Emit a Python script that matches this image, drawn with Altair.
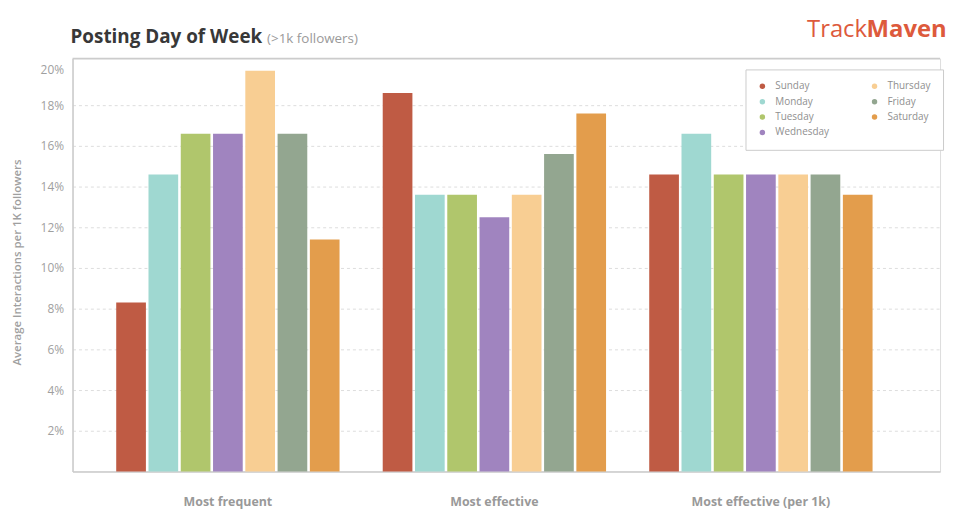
import altair as alt
import pandas as pd

categories = ["Most frequent", "Most effective", "Most effective (per 1k)"]
days = ["Sunday", "Monday", "Tuesday", "Wednesday", "Thursday", "Friday", "Saturday"]
most_frequent = [8.3, 14.6, 16.6, 16.6, 19.7, 16.6, 11.4]
most_effective = [18.6, 13.6, 13.6, 12.5, 13.6, 15.6, 17.6]
most_effective_per_1k = [14.6, 16.6, 14.6, 14.6, 14.6, 14.6, 13.6]
day_colors = ["#BF5B44", "#9FD8D1", "#B0C66C", "#A084BF", "#F8CE93", "#93A690", "#E39D4C"]
y_ticks = [2, 4, 6, 8, 10, 12, 14, 16, 18, 20]

title_text = "Posting Day of Week"
subtitle_text = "(>1k followers)"
y_title = "Average Interactions per 1K followers"

series = [most_frequent, most_effective, most_effective_per_1k]
rows = []
for cat, vals in zip(categories, series):
    for d, v in zip(days, vals):
        rows.append({"category": cat, "day": d, "value": v})
df = pd.DataFrame(rows)

W, H = 874, 416
FONT = "Open Sans"

bars = alt.Chart(df).mark_bar().encode(
    x=alt.X(
        "category:N",
        sort=categories,
        scale=alt.Scale(paddingInner=0.162, paddingOuter=0.2086, align=0.393),
        axis=alt.Axis(
            title=None, labelAngle=0, labelFont=FONT, labelFontWeight="bold",
            labelFontSize=12.5, labelColor="#999999", labelPadding=24, ticks=False,
            domainColor="#cccccc", domainWidth=1.5,
        ),
    ),
    xOffset=alt.XOffset("day:N", sort=days, scale=alt.Scale(paddingInner=0.08, paddingOuter=0)),
    y=alt.Y(
        "value:Q",
        scale=alt.Scale(domain=[0, 20.3], nice=False, zero=True),
        axis=alt.Axis(
            values=y_ticks, labelExpr="datum.value + '%'", title=y_title,
            grid=True, gridDash=[3, 3], gridColor="#dddddd",
            gridOpacity={"condition": {"test": "datum.value >= 20", "value": 0}, "value": 1},
            ticks=False, domainColor="#cccccc", domainWidth=1.5,
            labelFont=FONT, labelColor="#9f9f9f", labelFontSize=12, labelPadding=9,
            labelFlush=10,
            titleFont=FONT, titleFontSize=11.5, titleFontWeight=600, titleColor="#9f9f9f",
            titleX=-55, titleY=205, titleBaseline="middle", titleAlign="center", titleAngle=270,
        ),
    ),
    color=alt.Color(
        "day:N",
        scale=alt.Scale(domain=days, range=day_colors),
        legend=alt.Legend(
            title=None, orient="none", legendX=678, legendY=11, columns=2,
            symbolType="circle", symbolSize=30, symbolStrokeWidth=0,
            labelFont=FONT, labelFontSize=10, labelColor="#8f8f8f",
            strokeColor="#cccccc", fillColor="white", padding=12,
            rowPadding=5.5, columnPadding=40, labelOffset=8,
        ),
    ),
)

top_border = alt.Chart(pd.DataFrame({"a": [0]})).mark_rule(color="#cccccc", strokeWidth=1.5).encode(
    x=alt.value(0), x2=alt.value(W), y=alt.value(0)
)

title = alt.Chart(pd.DataFrame({"t": [title_text]})).mark_text(
    align="left", baseline="middle", font=FONT, fontSize=19, fontWeight="bold", color="#383838"
).encode(x=alt.value(-2), y=alt.value(-22), text="t:N")

subtitle = alt.Chart(pd.DataFrame({"t": [subtitle_text]})).mark_text(
    align="left", baseline="middle", font=FONT, fontSize=13.5, color="#9a9a9a"
).encode(x=alt.value(196), y=alt.value(-20), text="t:N")

logo_a = alt.Chart(pd.DataFrame({"t": ["Track"]})).mark_text(
    align="left", baseline="middle", font=FONT, fontSize=24, fontWeight="normal", color="#DD5A3C"
).encode(x=alt.value(740), y=alt.value(-29), text="t:N")

logo_b = alt.Chart(pd.DataFrame({"t": ["Maven"]})).mark_text(
    align="left", baseline="middle", font=FONT, fontSize=24, fontWeight="bold", color="#DD5A3C"
).encode(x=alt.value(800), y=alt.value(-29), text="t:N")

chart = alt.layer(bars, top_border, title, subtitle, logo_a, logo_b).properties(
    width=W, height=H, padding={"left": 4, "top": 8, "right": 0, "bottom": 5}
).configure_view(stroke=None).configure(background="white")

chart.save("out.html", embed_options={"renderer": "svg", "actions": False})
